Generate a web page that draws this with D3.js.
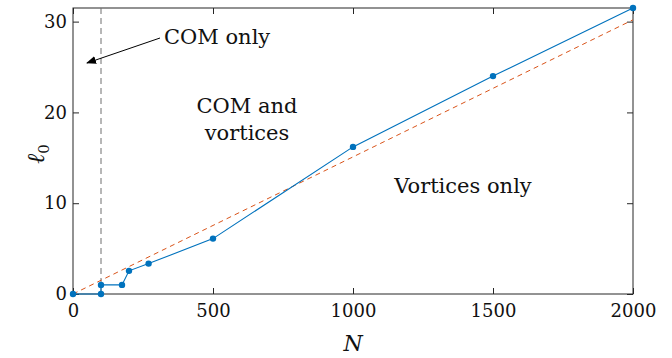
<!DOCTYPE html>
<html>
<head>
<meta charset="utf-8">
<script src="https://cdn.jsdelivr.net/npm/d3@7"></script>
<style>
  html, body { margin: 0; padding: 0; background: #fff; }
  svg { display: block; }
  svg text { font-family: "DejaVu Serif", "Liberation Serif", serif; fill: #111; }
</style>
</head>
<body>
<svg id="chart" width="672" height="358"></svg>
<script>
// Phase boundary l0(N)
const nValues = [0, 100, 100, 175, 200, 270, 500, 1000, 1500, 2000];
const l0Values = [0, 0, 1, 1, 2.55, 3.35, 6.1, 16.2, 24.0, 31.5];
// Linear reference line
const refN = [0, 2000];
const refL0 = [0, 30.2];
// Vertical separator
const comLimitN = 100;
const xTicks = [0, 500, 1000, 1500, 2000];
const yTicks = [0, 10, 20, 30];

const svg = d3.select("#chart");
const m = { left: 73, right: 39, top: 8, bottom: 64 };
const W = 672, H = 358;

const x = d3.scaleLinear().domain([0, 2000]).range([m.left, W - m.right]);
const y = d3.scaleLinear().domain([0, 31.5]).range([H - m.bottom, m.top]);

const frameColor = "#262626";

// Frame
svg.append("rect")
  .attr("x", x(0)).attr("y", y(31.5))
  .attr("width", x(2000) - x(0)).attr("height", y(0) - y(31.5))
  .attr("fill", "none").attr("stroke", frameColor).attr("stroke-width", 1);

// Inward ticks on all four sides
const tl = 6;
const fmt = d3.format("d");
const axB = d3.axisBottom(x).tickValues(xTicks).tickFormat(fmt).tickSizeInner(-tl).tickSizeOuter(0).tickPadding(10);
const axT = d3.axisTop(x).tickValues(xTicks).tickSizeInner(-tl).tickSizeOuter(0).tickFormat("");
const axL = d3.axisLeft(y).tickValues(yTicks).tickFormat(fmt).tickSizeInner(-tl).tickSizeOuter(0).tickPadding(6);
const axR = d3.axisRight(y).tickValues(yTicks).tickSizeInner(-tl).tickSizeOuter(0).tickFormat("");

function styleAxis(g) {
  g.attr("font-family", null).attr("font-size", null);
  g.select(".domain").remove();
  g.selectAll(".tick line").attr("stroke", frameColor);
  g.selectAll(".tick text").attr("fill", "#111").style("font-size", "18px");
}
svg.append("g").attr("transform", `translate(0,${y(0)})`).call(axB).call(styleAxis);
svg.append("g").attr("transform", `translate(0,${y(31.5)})`).call(axT).call(styleAxis);
svg.append("g").attr("transform", `translate(${x(0)},0)`).call(axL).call(styleAxis);
svg.append("g").attr("transform", `translate(${x(2000)},0)`).call(axR).call(styleAxis);

// Vertical dashed separator
svg.append("line")
  .attr("x1", x(comLimitN)).attr("x2", x(comLimitN))
  .attr("y1", y(31.5)).attr("y2", y(0))
  .attr("stroke", "#6e6e6e").attr("stroke-width", 1).attr("stroke-dasharray", "6,4");

// Reference dashed line
const refData = refN.map((n, i) => [n, refL0[i]]);
svg.append("path")
  .attr("d", d3.line().x(d => x(d[0])).y(d => y(d[1]))(refData))
  .attr("fill", "none").attr("stroke", "#D95319").attr("stroke-width", 1)
  .attr("stroke-dasharray", "5,4");

// Boundary line with markers
const data = nValues.map((n, i) => [n, l0Values[i]]);
svg.append("path")
  .attr("d", d3.line().x(d => x(d[0])).y(d => y(d[1]))(data))
  .attr("fill", "none").attr("stroke", "#0072BD").attr("stroke-width", 1.1);
svg.append("g").selectAll("circle").data(data).join("circle")
  .attr("cx", d => x(d[0])).attr("cy", d => y(d[1])).attr("r", 3.2)
  .attr("fill", "#0072BD");

// Axis labels
svg.append("text").attr("x", (x(0) + x(2000)) / 2).attr("y", 351)
  .attr("text-anchor", "middle").style("font-size", "22px").style("font-style", "italic")
  .text("N");
svg.append("text").attr("transform", "translate(44,154) rotate(-90)")
  .attr("text-anchor", "middle").style("font-size", "24px").style("font-style", "italic")
  .html('ℓ<tspan dy="5" style="font-size:15px;font-style:normal">0</tspan>');

// Region annotations
svg.append("defs").append("marker")
  .attr("id", "arrow").attr("viewBox", "0 0 10 10").attr("refX", 9).attr("refY", 5)
  .attr("markerWidth", 10).attr("markerHeight", 10).attr("orient", "auto")
  .attr("markerUnits", "userSpaceOnUse")
  .append("path").attr("d", "M0,1 L10,5 L0,9 Z").attr("fill", "#000");
svg.append("line").attr("x1", 160).attr("y1", 38).attr("x2", 87).attr("y2", 63)
  .attr("stroke", "#000").attr("stroke-width", 1).attr("marker-end", "url(#arrow)");
svg.append("text").attr("x", 164).attr("y", 44).style("font-size", "21px").text("COM only");
svg.append("text").attr("x", 247).attr("y", 113).attr("text-anchor", "middle")
  .style("font-size", "21px").text("COM and");
svg.append("text").attr("x", 247).attr("y", 140).attr("text-anchor", "middle")
  .style("font-size", "21px").text("vortices");
svg.append("text").attr("x", 463).attr("y", 193).attr("text-anchor", "middle")
  .style("font-size", "21px").text("Vortices only");
</script>
</body>
</html>
